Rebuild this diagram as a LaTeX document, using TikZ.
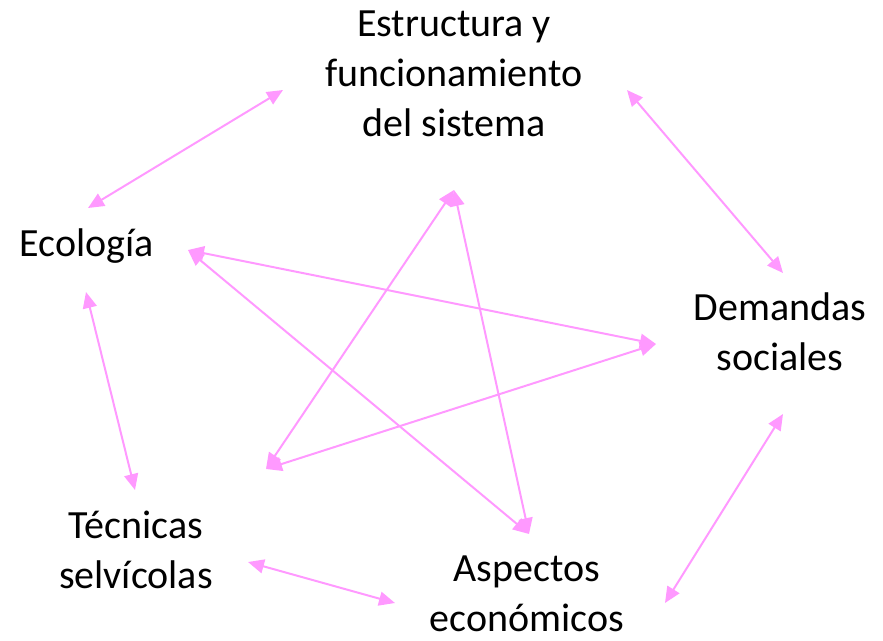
\documentclass[tikz,border=0pt]{standalone}
\usepackage{fontspec}
\setmainfont{Carlito}
\usetikzlibrary{arrows.meta}
\definecolor{arrowpink}{RGB}{255,153,255}
\begin{document}
\begin{tikzpicture}[x=0.75pt,y=-0.75pt,
  concept/.style={align=center,inner sep=0pt,font=\fontsize{30}{37.5}\selectfont},
  link/.style={arrowpink,line width=1.5pt,{Triangle[length=12pt,width=10.5pt]}-{Triangle[length=12pt,width=10.5pt]}}]
\useasboundingbox (0,0) rectangle (883,640);
% concepts
\node[concept] (est) at (454,74) {Estructura y\\funcionamiento\\del sistema};
\node[concept,anchor=base] (eco) at (87,256) {Ecología};
\node[concept] (dem) at (780,332) {Demandas\\sociales};
\node[concept] (tec) at (136,550) {Técnicas\\selvícolas};
\node[concept] (asp) at (527,594) {Aspectos\\económicos};
% connector ends
\coordinate (est-w) at (283,90);
\coordinate (est-e) at (627,90);
\coordinate (est-s) at (454,190);
\coordinate (eco-n) at (88,208);
\coordinate (eco-e) at (188,250);
\coordinate (eco-s) at (86,292);
\coordinate (dem-n) at (783,273);
\coordinate (dem-w) at (656,344);
\coordinate (dem-s) at (783,414);
\coordinate (tec-n) at (135,490);
\coordinate (tec-ne) at (266,469);
\coordinate (tec-e) at (248,562);
\coordinate (asp-n) at (529,534);
\coordinate (asp-w) at (395,603);
\coordinate (asp-e) at (665,603);
% connectors
\draw[link] (eco-n) -- (est-w);
\draw[link] (est-e) -- (dem-n);
\draw[link] (dem-s) -- (asp-e);
\draw[link] (asp-w) -- (tec-e);
\draw[link] (tec-n) -- (eco-s);
\draw[link] (eco-e) -- (dem-w);
\draw[link] (eco-e) -- (asp-n);
\draw[link] (tec-ne) -- (est-s);
\draw[link] (tec-ne) -- (dem-w);
\draw[link] (est-s) -- (asp-n);
\end{tikzpicture}
\end{document}
